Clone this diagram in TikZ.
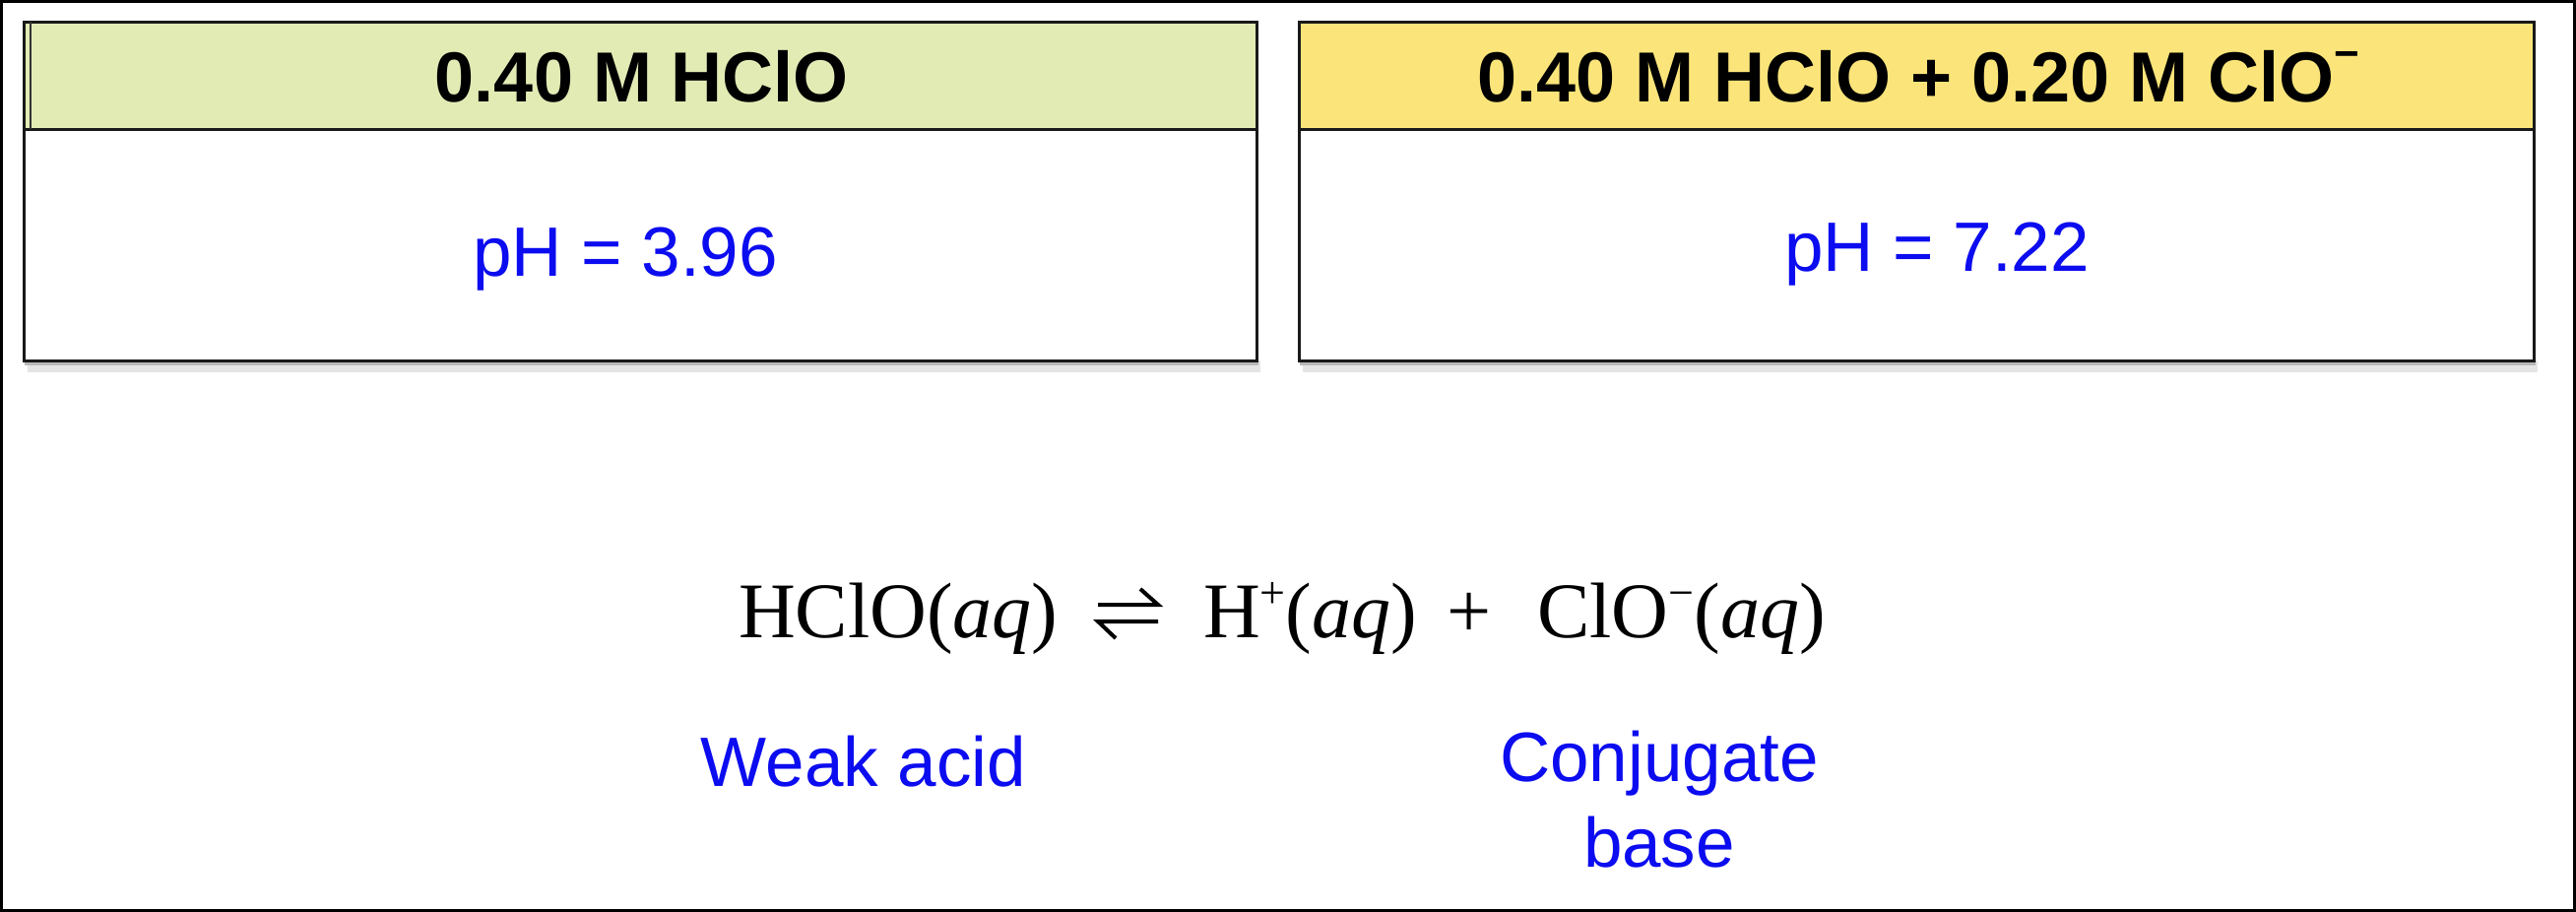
\documentclass[tikz,border=0pt]{standalone}
\usepackage{fontspec}
\setmainfont{Liberation Serif}
\newfontfamily\arial{Liberation Sans}
\definecolor{hgreen}{RGB}{227,235,181}
\definecolor{hyellow}{RGB}{251,229,122}
\definecolor{tblue}{RGB}{12,12,240}
\newcommand{\eqsup}[1]{\raisebox{30pt}{\fontsize{46}{50}\selectfont #1}}
\newcommand{\hdsup}[1]{\raisebox{34pt}{\fontsize{44}{50}\selectfont #1}}
\begin{document}
\begin{tikzpicture}[x=1pt,y=-1pt,
  sanstxt/.style={font=\arial\fontsize{71}{86}\selectfont, inner sep=0pt, anchor=base},
  hdrtxt/.style={sanstxt, font=\arial\bfseries\fontsize{72}{86}\selectfont},
  bluetxt/.style={sanstxt, text=tblue},
  eqtxt/.style={font=\fontsize{80}{96}\selectfont, inner sep=0pt, anchor=base west},
  boxline/.style={line width=3pt, draw=black!90},
  harp/.style={line width=4pt, line cap=butt},
  shadowA/.style={fill=black!10},
  shadowB/.style={fill=black!28}]
\useasboundingbox (0,0) rectangle (2616,926);
% outer frame
\draw[line width=3pt] (1.5,1.5) rectangle (2614.5,924.5);
% shadows
\fill[shadowA] (28,366) rectangle (1280,378);
\fill[shadowB] (25,366) rectangle (1278,371);
\fill[shadowA] (1323,366) rectangle (2577,378);
\fill[shadowB] (1320,366) rectangle (2575,371);
% left box
\draw[boxline, fill=white] (24,22) rectangle (1276,366);
\draw[boxline, fill=hgreen] (24,22) rectangle (1276,131);
\draw[line width=1.5pt, black!80] (31,22) -- (31,131);
% right box
\draw[boxline, fill=white] (1319,22) rectangle (2573,366);
\draw[boxline, fill=hyellow] (1319,22) rectangle (2573,131);
% header texts
\node[hdrtxt] (lhead) at (652,103) {0.40 M HClO};
\node[hdrtxt] (rhead) at (1948,103) {0.40 M HClO + 0.20 M ClO\hdsup{−}};
% pH texts
\node[bluetxt] (lph) at (635,280) {pH = 3.96};
\node[bluetxt] (rph) at (1967,275) {pH = 7.22};
% equation
\node[eqtxt] (eqa) at (750,647) {HClO(\textit{aq})};
\coordinate (hpa) at (1115,614);
\coordinate (hpb) at (1176,631);
\draw[harp] (hpa) -- ++(61,0) -- ++(-18,-16);
\draw[harp] (hpb) -- ++(-61,0) -- ++(18,17);
\node[eqtxt] (eqc) at (1222,647) {H\eqsup{+}(\textit{aq})};
\node[eqtxt] (eqd) at (1469,647) {+};
\node[eqtxt] (eqe) at (1561,647) {ClO\eqsup{−}(\textit{aq})};
% labels
\node[bluetxt] (weak) at (877,798) {Weak acid};
\node[bluetxt] (conj) at (1685,793) {Conjugate};
\node[bluetxt] (cbase) at (1685,880) {base};
\end{tikzpicture}
\end{document}
